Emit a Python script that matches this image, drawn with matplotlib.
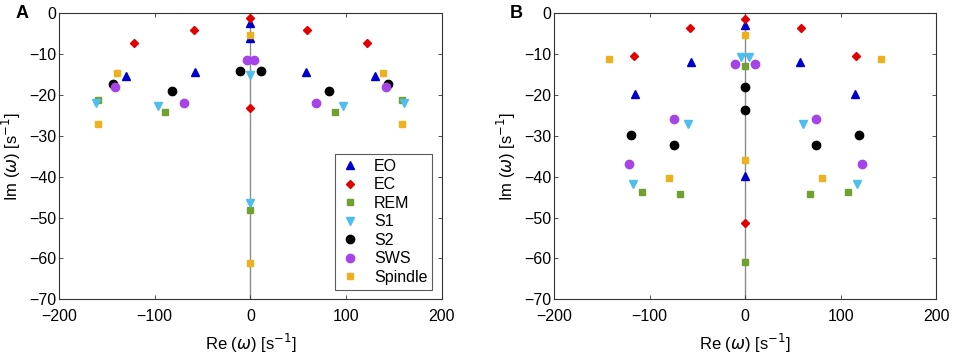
import numpy as np
import matplotlib.pyplot as plt

plt.rcParams['font.family'] = ['Liberation Sans', 'DejaVu Sans']
plt.rcParams['mathtext.fontset'] = 'dejavusans'

# Panel A data (Re, Im)
a_EO_x = [-130, -58, 0, 0, 58, 130]
a_EO_y = [-15.4, -14.4, -2.4, -6.1, -14.4, -15.4]
a_EC_x = [-122, -59, 0, 0, 59, 122]
a_EC_y = [-7.2, -4.1, -1.1, -23.3, -4.1, -7.2]
a_REM_x = [-159, -89, 0, 89, 159]
a_REM_y = [-21.3, -24.2, -48.1, -24.2, -21.3]
a_S1_x = [-161, -97, 0, 0, 97, 161]
a_S1_y = [-22.0, -22.8, -15.0, -46.5, -22.8, -22.0]
a_S2_x = [-144, -82, -11, 11, 82, 144]
a_S2_y = [-17.2, -18.9, -14.1, -14.1, -18.9, -17.2]
a_SWS_x = [-142, -69, -4, 4, 69, 142]
a_SWS_y = [-18.0, -21.9, -11.5, -11.5, -21.9, -18.0]
a_SP_x = [-139, -159, 0, 0, 139, 159]
a_SP_y = [-14.6, -27.0, -5.4, -61.0, -14.6, -27.0]

# Panel B data
b_EO_x = [-115, -57, 0, 0, 57, 115]
b_EO_y = [-19.7, -12.0, -2.9, -39.8, -12.0, -19.7]
b_EC_x = [-116, -58, 0, 0, 58, 116]
b_EC_y = [-10.4, -3.6, -1.3, -51.4, -3.6, -10.4]
b_REM_x = [-108, -68, 0, 0, 68, 108]
b_REM_y = [-43.8, -44.2, -12.8, -60.8, -44.2, -43.8]
b_S1_x = [-117, -60, -4, 4, 60, 117]
b_S1_y = [-41.7, -27.0, -10.7, -10.7, -27.0, -41.7]
b_S2_x = [-119, -74, 0, 0, 74, 119]
b_S2_y = [-29.9, -32.2, -18.0, -23.6, -32.2, -29.9]
b_SWS_x = [-122, -74, -10.5, 10.5, 74, 122]
b_SWS_y = [-36.9, -25.9, -12.4, -12.4, -25.9, -36.9]
b_SP_x = [-142, -80, 0, 0, 80, 142]
b_SP_y = [-11.3, -40.2, -5.3, -35.9, -40.2, -11.3]

labels = ['EO', 'EC', 'REM', 'S1', 'S2', 'SWS', 'Spindle']
markers = ['^', 'D', 's', 'v', 'o', 'o', 's']
sizes = [6, 4.5, 4, 6, 6, 6, 4]
colors = ['#0000CC', '#E00000', '#70A030', '#4DBEEE', '#000000', '#A644E8', '#EDB120']

panel_a = [(a_EO_x, a_EO_y), (a_EC_x, a_EC_y), (a_REM_x, a_REM_y), (a_S1_x, a_S1_y),
           (a_S2_x, a_S2_y), (a_SWS_x, a_SWS_y), (a_SP_x, a_SP_y)]
panel_b = [(b_EO_x, b_EO_y), (b_EC_x, b_EC_y), (b_REM_x, b_REM_y), (b_S1_x, b_S1_y),
           (b_S2_x, b_S2_y), (b_SWS_x, b_SWS_y), (b_SP_x, b_SP_y)]

fig = plt.figure(figsize=(9.57, 3.59), dpi=100)
ax1 = fig.add_axes([0.0617, 0.1663, 0.3998, 0.7967])
ax2 = fig.add_axes([0.5789, 0.1663, 0.3995, 0.7967])

for ax, data, letter in [(ax1, panel_a, 'A'), (ax2, panel_b, 'B')]:
    ax.axvline(0, color='#8c8c8c', lw=1, zorder=1)
    for (x, y), lab, m, s, c in zip(data, labels, markers, sizes, colors):
        ax.plot(x, y, linestyle='None', marker=m, ms=s, color=c, mec=c, label=lab, zorder=3)
    ax.set_xlim(-200, 200)
    ax.set_ylim(-70, 0)
    ax.set_xticks([-200, -100, 0, 100, 200])
    ax.set_yticks(np.arange(-70, 1, 10))
    ax.tick_params(direction='in', top=True, right=True, labelsize=11.5, length=3,
                   color='#333333', width=0.6)
    ax.tick_params(axis='x', pad=7)
    ax.tick_params(axis='y', pad=2)
    for sp in ax.spines.values():
        sp.set_color('#333333')
        sp.set_linewidth(0.8)
    ax.set_xlabel(r'Re ($\omega$) [s$^{-1}$]', fontsize=12, labelpad=6)
    ax.set_ylabel(r'Im ($\omega$) [s$^{-1}$]', fontsize=12, labelpad=4)
    ax.text(-0.115, 1.0, letter, transform=ax.transAxes, fontsize=13,
            fontweight='bold', va='center', ha='left')

leg = ax1.legend(loc='lower right', fontsize=11.5, frameon=True, fancybox=False,
                 edgecolor='#333333', borderpad=0.3, labelspacing=0.22,
                 handlelength=1.2, handletextpad=0.9, borderaxespad=0.6)
leg.get_frame().set_linewidth(0.8)

fig.savefig('out.png', dpi=100)
